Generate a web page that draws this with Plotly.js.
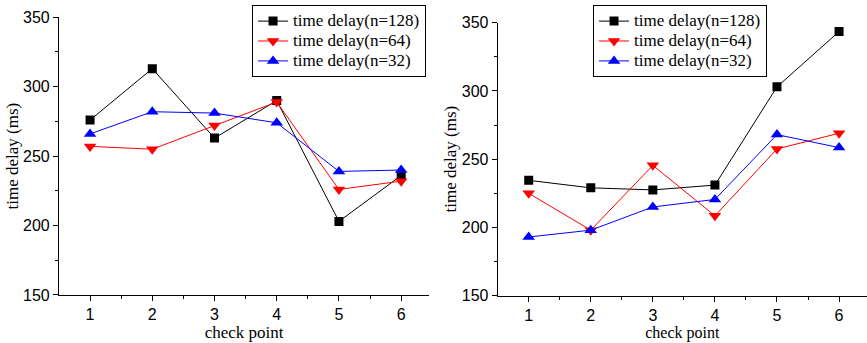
<!DOCTYPE html>
<html>
<head>
<meta charset="utf-8">
<script src="https://cdn.plot.ly/plotly-3.0.1.min.js"></script>
<style>html,body{margin:0;padding:0;background:#fff;}#chart{width:867px;height:343px;}</style>
</head>
<body>
<div id="chart"></div>
<script>
const checkPoints = [1, 2, 3, 4, 5, 6];
const seriesNames = ["time delay(n=128)", "time delay(n=64)", "time delay(n=32)"];
// left panel
const leftN128 = [276, 313, 263, 290, 203, 236];
const leftN64  = [257, 255, 272, 289, 226, 232];
const leftN32  = [266, 282, 281, 274, 239, 240];
// right panel
const rightN128 = [234.5, 229, 227.5, 231, 303, 343.5];
const rightN64  = [225, 198, 245.5, 208.5, 257.5, 269];
const rightN32  = [193, 198, 215, 220.5, 268, 258.5];
const yTickVals = [150, 200, 250, 300, 350];

const colors = ["#000000", "#ff0000", "#0000ff"];
const symbols = ["square", "triangle-down", "triangle-up"];
const sizes = [9, 11, 11];

function mk(y, i, xa, ya, leg) {
  return {
    x: checkPoints, y: y, type: "scatter", mode: "lines+markers",
    name: '<span style="font-size:17px">' + seriesNames[i] + '</span>',
    xaxis: xa, yaxis: ya, legend: leg,
    line: {color: colors[i], width: 1},
    marker: {symbol: symbols[i], size: sizes[i], color: colors[i]}
  };
}
const data = [
  mk(leftN128, 0, "x", "y", "legend"),
  mk(leftN64, 1, "x", "y", "legend"),
  mk(leftN32, 2, "x", "y", "legend"),
  mk(rightN128, 0, "x2", "y2", "legend2"),
  mk(rightN64, 1, "x2", "y2", "legend2"),
  mk(rightN32, 2, "x2", "y2", "legend2")
];

const SANS = "'Liberation Sans', Arial, sans-serif";
const SERIF = "'Liberation Serif', 'Times New Roman', serif";
const tickFont = {family: SANS, size: 16, color: "#000"};
const titleFont = {family: SERIF, size: 17, color: "#000"};
const titleFontSmall = {family: SERIF, size: 16, color: "#000"};

function xax(domain, anchor, font) {
  return {
    domain: domain, anchor: anchor, range: [0.5, 6.45],
    tickvals: checkPoints, ticks: "outside", ticklen: 5, tickcolor: "#000",
    minor: {tickvals: [1.5, 2.5, 3.5, 4.5, 5.5], ticks: "outside", ticklen: 3, tickcolor: "#000"},
    showline: true, linecolor: "#000", linewidth: 1, showgrid: false, zeroline: false,
    tickfont: tickFont,
    title: {text: "check point", font: font, standoff: 2}
  };
}
function yax(domain, anchor) {
  return {
    domain: domain, anchor: anchor, range: [150, 350],
    tickvals: yTickVals, ticks: "outside", ticklen: 5, tickcolor: "#000",
    minor: {dtick: 25, ticks: "outside", ticklen: 3, tickcolor: "#000"},
    showline: true, linecolor: "#000", linewidth: 1, showgrid: false, zeroline: false,
    tickfont: tickFont,
    title: {text: "time delay (ms)", font: titleFont, standoff: 0}
  };
}
const legendStyle = {
  bordercolor: "#000", borderwidth: 1, bgcolor: "#fff",
  font: {family: SERIF, size: 13, color: "#000"},
  xanchor: "left", yanchor: "top", tracegroupgap: 0, itemwidth: 30
};
const layout = {
  width: 867, height: 343,
  margin: {l: 0, r: 0, t: 0, b: 0},
  paper_bgcolor: "#fff", plot_bgcolor: "#fff",
  showlegend: true,
  xaxis: xax([0.068, 0.495], "y", titleFont),
  yaxis: yax([0.140, 0.9496], "x"),
  xaxis2: xax([0.574, 1.0], "y2", titleFontSmall),
  yaxis2: yax([0.138, 0.9338], "x2"),
  legend: Object.assign({x: 0.2907, y: 0.985}, legendStyle),
  legend2: Object.assign({x: 0.684, y: 0.985}, legendStyle)
};
Plotly.newPlot("chart", data, layout, {displayModeBar: false, responsive: false});
</script>
</body>
</html>
